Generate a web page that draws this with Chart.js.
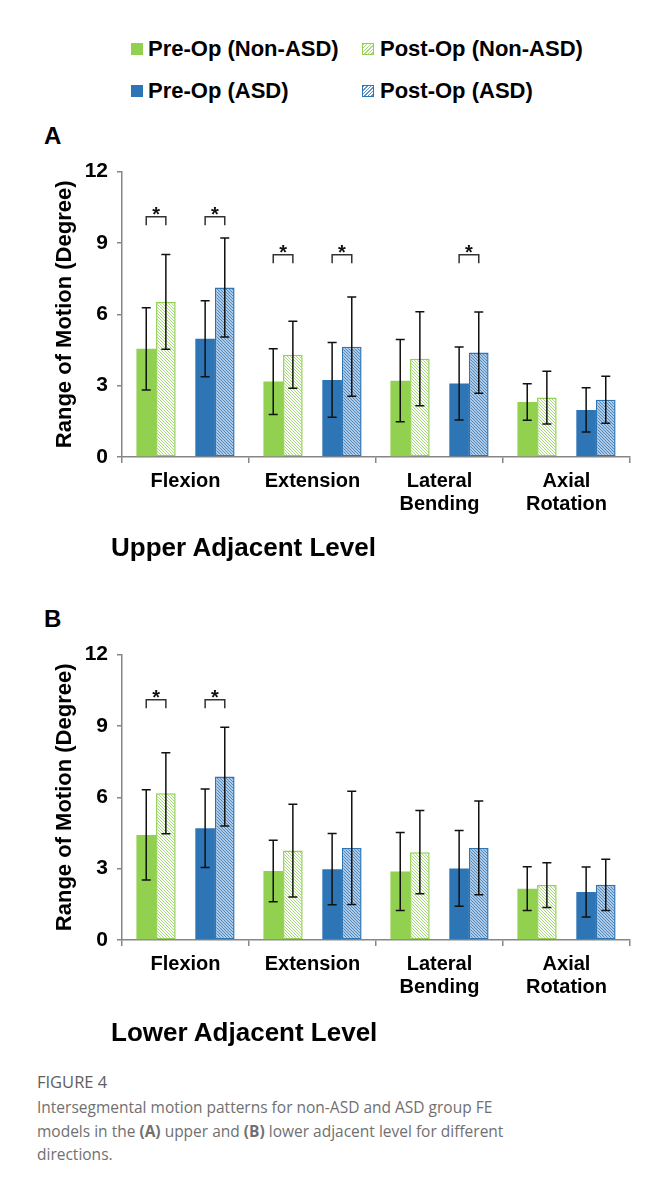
<!DOCTYPE html>
<html>
<head>
<meta charset="utf-8">
<script src="https://cdn.jsdelivr.net/npm/chart.js@4.4.1/dist/chart.umd.min.js"></script>
<style>
  body { margin: 0; background: #fff; }
  #page { position: relative; width: 662px; height: 1187px; overflow: hidden; font-family: "Liberation Sans", Arial, sans-serif; }
  .abs { position: absolute; white-space: nowrap; }
  .leg { font-weight: bold; font-size: 22px; line-height: 22px; color: #000; }
  .sw { position: absolute; width: 12px; height: 12px; box-sizing: border-box; }
  .panel { font-weight: bold; font-size: 24px; line-height: 24px; }
  .level { font-weight: bold; font-size: 26px; line-height: 26px; }
  canvas { position: absolute; left: 0; }
  .cap { font-family: "Open Sans", sans-serif; font-size: 15.5px; line-height: 23.5px; color: #707070; left: 37px; }
</style>
</head>
<body>
<div id="page">
  <!-- legenda 2x2 -->
  <div class="sw" style="left:131px;top:43px;background:#92D050"></div>
  <div class="abs leg" style="left:148px;top:38px">Pre-Op (Non-ASD)</div>
  <div class="sw" style="left:362px;top:43px;border:1px solid #92D050;background:repeating-linear-gradient(135deg,#a9da78 0 1px,#fff 1px 2.5px)"></div>
  <div class="abs leg" style="left:380px;top:38px">Post-Op (Non-ASD)</div>
  <div class="sw" style="left:131px;top:85px;background:#2E75B6"></div>
  <div class="abs leg" style="left:148px;top:80px">Pre-Op (ASD)</div>
  <div class="sw" style="left:362px;top:85px;border:1px solid #2E75B6;background:repeating-linear-gradient(135deg,#5b92c8 0 1.2px,#fff 1.2px 2.5px)"></div>
  <div class="abs leg" style="left:380px;top:80px">Post-Op (ASD)</div>

  <div class="abs panel" style="left:44px;top:124px">A</div>
  <canvas id="chartA" width="662" height="390" style="top:150px"></canvas>
  <div class="abs level" style="left:111px;top:534px">Upper Adjacent Level</div>

  <div class="abs panel" style="left:44px;top:607px">B</div>
  <canvas id="chartB" width="662" height="390" style="top:633px"></canvas>
  <div class="abs level" style="left:111px;top:1019px">Lower Adjacent Level</div>

  <div class="abs cap" style="top:1070px;font-size:16.5px;color:#5f5f5f">FIGURE 4</div>
  <div class="abs cap" style="top:1096px">Intersegmental motion patterns for non-ASD and ASD group FE<br>models in the <b>(A)</b> upper and <b>(B)</b> lower adjacent level for different<br>directions.</div>
</div>

<script>
// Kategori dan tick
const categories = [["Flexion"], ["Extension"], ["Lateral", "Bending"], ["Axial", "Rotation"]];
const yTicks = [0, 3, 6, 9, 12];

// Panel A - upper adjacent level
const upperPreNon = [4.55, 3.17, 3.21, 2.31];
const upperPostNon = [6.52, 4.30, 4.13, 2.50];
const upperPreAsd = [4.97, 3.24, 3.09, 1.98];
const upperPostAsd = [7.13, 4.64, 4.39, 2.41];
const upperSdPreNon = [1.73, 1.38, 1.73, 0.77];
const upperSdPostNon = [1.99, 1.41, 1.98, 1.11];
const upperSdPreAsd = [1.60, 1.57, 1.53, 0.93];
const upperSdPostAsd = [2.08, 2.09, 1.71, 0.99];
const upperSigNon = [10.1, 8.5, null, null];
const upperSigAsd = [10.1, 8.5, 8.5, null];

// Panel B - lower adjacent level
const lowerPreNon = [4.42, 2.90, 2.88, 2.16];
const lowerPostNon = [6.17, 3.76, 3.69, 2.31];
const lowerPreAsd = [4.70, 2.98, 3.01, 2.02];
const lowerPostAsd = [6.87, 3.87, 3.87, 2.32];
const lowerSdPreNon = [1.90, 1.29, 1.64, 0.92];
const lowerSdPostNon = [1.70, 1.95, 1.75, 0.94];
const lowerSdPreAsd = [1.65, 1.50, 1.59, 1.05];
const lowerSdPostAsd = [2.08, 2.38, 1.97, 1.08];
const lowerSigNon = [10.1, null, null, null];
const lowerSigAsd = [10.1, null, null, null];

const GREEN = "#92D050";
const BLUE = "#2E75B6";
const AXIS = "#868686";

// Pola arsir halus untuk bar post-op
function makeHatch(color, lineW) {
  const c = document.createElement("canvas");
  c.width = 3;
  c.height = 3;
  const g = c.getContext("2d");
  g.fillStyle = "#fff";
  g.fillRect(0, 0, 3, 3);
  g.strokeStyle = color;
  g.lineWidth = lineW;
  g.beginPath();
  g.moveTo(0, 0); g.lineTo(3, 3);
  g.moveTo(-1, 2); g.lineTo(1, 4);
  g.moveTo(2, -1); g.lineTo(4, 1);
  g.stroke();
  return g.createPattern(c, "repeat");
}

//! Error bar
const errorBars = {
  id: "errorBars",
  afterDatasetsDraw(chart) {
    const ctx = chart.ctx;
    const y = chart.scales.y;
    ctx.save();
    ctx.strokeStyle = "#111";
    ctx.lineWidth = 1.5;
    chart.data.datasets.forEach((ds, di) => {
      if (!ds.sd) return;
      chart.getDatasetMeta(di).data.forEach((bar, i) => {
        const v = ds.data[i];
        const e = ds.sd[i];
        const top = y.getPixelForValue(v + e);
        const bot = y.getPixelForValue(v - e);
        ctx.beginPath();
        ctx.moveTo(bar.x, top); ctx.lineTo(bar.x, bot);
        ctx.moveTo(bar.x - 4.5, top); ctx.lineTo(bar.x + 4.5, top);
        ctx.moveTo(bar.x - 4.5, bot); ctx.lineTo(bar.x + 4.5, bot);
        ctx.stroke();
      });
    });
    ctx.restore();
  },
};

//! Tanda signifikansi (*)
const sigMarks = {
  id: "sigMarks",
  afterDatasetsDraw(chart, args, opts) {
    const ctx = chart.ctx;
    const y = chart.scales.y;
    const pairs = [[0, 1, opts.non], [3, 4, opts.asd]];
    ctx.save();
    ctx.strokeStyle = "#333";
    ctx.lineWidth = 1.5;
    ctx.fillStyle = "#111";
    ctx.font = "bold 20px 'Liberation Sans', Arial, sans-serif";
    ctx.textAlign = "center";
    ctx.textBaseline = "alphabetic";
    pairs.forEach(([a, b, levels]) => {
      const ma = chart.getDatasetMeta(a).data;
      const mb = chart.getDatasetMeta(b).data;
      levels.forEach((lv, i) => {
        if (lv == null) return;
        const x1 = ma[i].x, x2 = mb[i].x;
        const top = y.getPixelForValue(lv);
        ctx.beginPath();
        ctx.moveTo(x1, top + 8.5); ctx.lineTo(x1, top);
        ctx.lineTo(x2, top); ctx.lineTo(x2, top + 8.5);
        ctx.stroke();
        ctx.fillText("*", (x1 + x2) / 2, top + 4);
      });
    });
    ctx.restore();
  },
};

function makeChart(id, preNon, postNon, preAsd, postAsd, sdPreNon, sdPostNon, sdPreAsd, sdPostAsd, sigNon, sigAsd) {
  const ctx = document.getElementById(id).getContext("2d");
  return new Chart(ctx, {
    type: "bar",
    data: {
      labels: categories,
      datasets: [
        { label: "Pre-Op (Non-ASD)", data: preNon, sd: sdPreNon, backgroundColor: GREEN, borderWidth: 0 },
        { label: "Post-Op (Non-ASD)", data: postNon, sd: sdPostNon, backgroundColor: makeHatch("#a6d977", 1), borderColor: GREEN, borderWidth: 1.5 },
        { label: "", data: categories.map(() => null) }, // celah antar grup
        { label: "Pre-Op (ASD)", data: preAsd, sd: sdPreAsd, backgroundColor: BLUE, borderWidth: 0 },
        { label: "Post-Op (ASD)", data: postAsd, sd: sdPostAsd, backgroundColor: makeHatch("#4f89c2", 1.3), borderColor: BLUE, borderWidth: 1.5 },
      ],
    },
    options: {
      responsive: false,
      animation: false,
      devicePixelRatio: 1,
      layout: { padding: { left: 0, right: 32, top: 18, bottom: 23 } },
      datasets: { bar: { categoryPercentage: 0.773, barPercentage: 1.0, borderSkipped: false } },
      plugins: {
        legend: { display: false },
        tooltip: { enabled: false },
        sigMarks: { non: sigNon, asd: sigAsd },
      },
      scales: {
        x: {
          grid: { drawOnChartArea: false, color: AXIS, lineWidth: 1.5, tickLength: 6 },
          border: { color: AXIS, width: 1.5 },
          ticks: { color: "#000", padding: 7, font: { family: "'Liberation Sans', Arial, sans-serif", size: 20, weight: "bold", lineHeight: 1.15 }, maxRotation: 0 },
          afterFit(scale) { scale.height = 60; },
        },
        y: {
          min: 0,
          max: 12,
          afterBuildTicks(scale) { scale.ticks = yTicks.map((v) => ({ value: v })); },
          grid: { drawOnChartArea: false, color: AXIS, lineWidth: 1.5, tickLength: 5 },
          border: { color: AXIS, width: 1.5 },
          ticks: { color: "#000", padding: 9, font: { family: "'Liberation Sans', Arial, sans-serif", size: 21, weight: "bold" } },
          title: {
            display: true,
            text: "Range of Motion (Degree)",
            color: "#000",
            padding: { top: 52, bottom: 0 },
            font: { family: "'Liberation Sans', Arial, sans-serif", size: 22, weight: "bold", lineHeight: 1.2 },
          },
          afterFit(scale) { scale.width = 122; },
        },
      },
    },
    plugins: [errorBars, sigMarks],
  });
}

makeChart("chartA", upperPreNon, upperPostNon, upperPreAsd, upperPostAsd,
  upperSdPreNon, upperSdPostNon, upperSdPreAsd, upperSdPostAsd, upperSigNon, upperSigAsd);
makeChart("chartB", lowerPreNon, lowerPostNon, lowerPreAsd, lowerPostAsd,
  lowerSdPreNon, lowerSdPostNon, lowerSdPreAsd, lowerSdPostAsd, lowerSigNon, lowerSigAsd);
</script>
</body>
</html>
